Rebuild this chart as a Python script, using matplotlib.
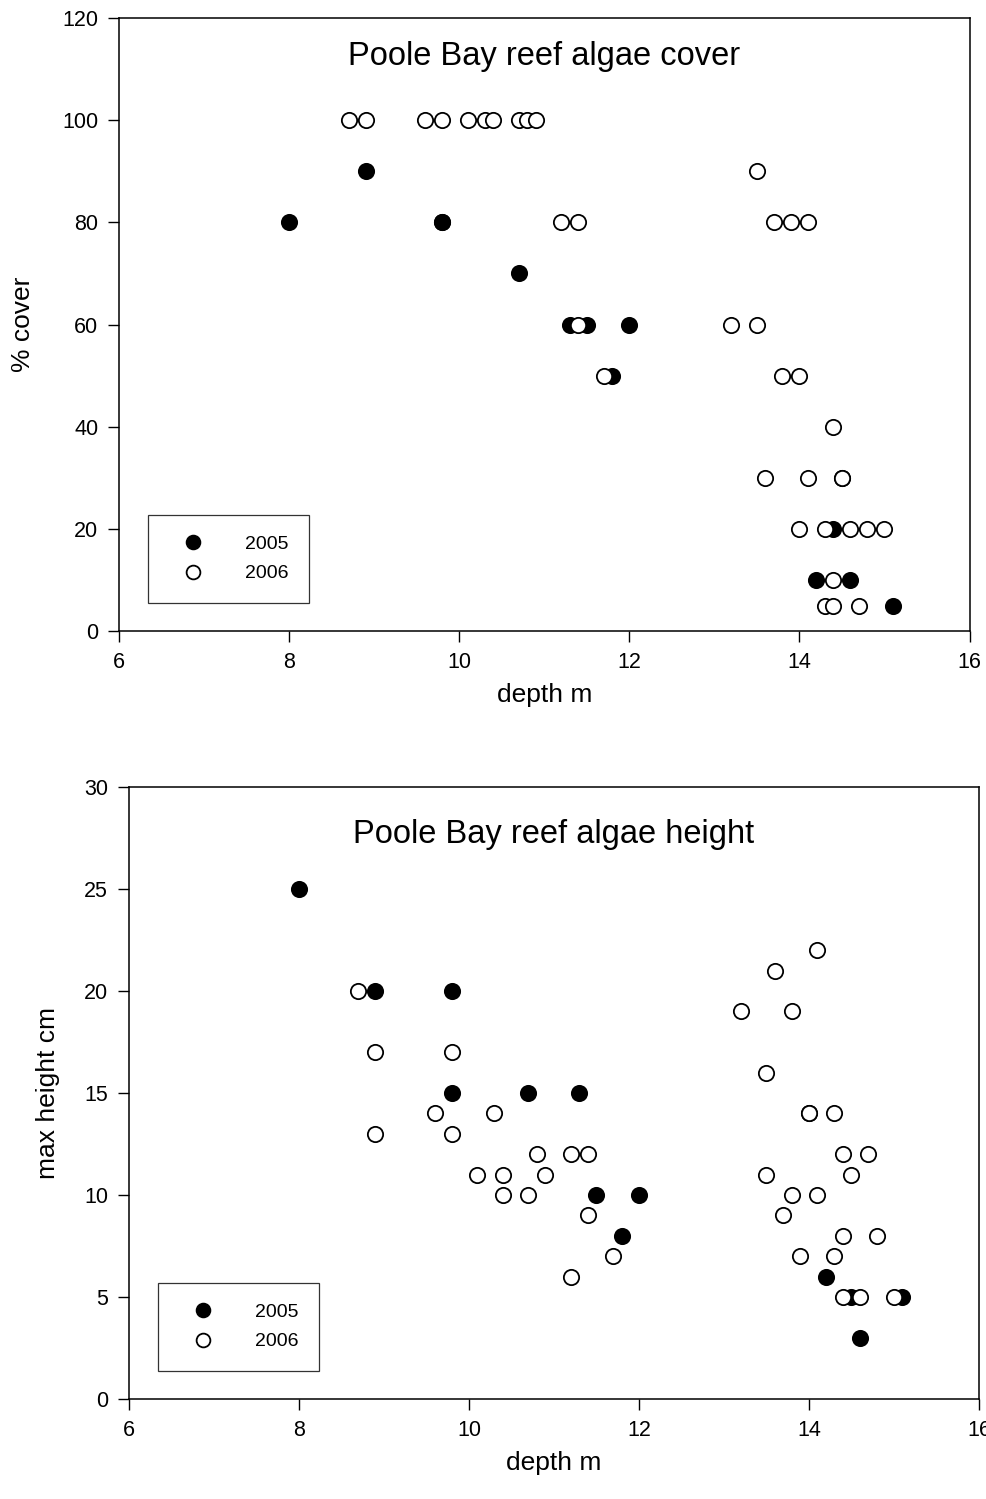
import matplotlib
matplotlib.use("Agg")
import matplotlib.pyplot as plt

plt.rcParams['font.family'] = ['Liberation Sans', 'DejaVu Sans']

# % cover vs depth
cover_depth_2005 = [8.0, 8.9, 9.8, 9.8, 10.7, 11.3, 11.5, 12.0, 11.8, 14.4, 14.2, 14.6, 15.1]
cover_2005 = [80, 90, 80, 80, 70, 60, 60, 60, 50, 20, 10, 10, 5]
cover_depth_2006 = [8.7, 8.9, 9.6, 9.8, 10.1, 10.3, 10.4, 10.7, 10.8, 10.9,
                    11.2, 11.4, 11.4, 11.7,
                    13.5, 13.7, 13.9, 14.1, 13.2, 13.5, 13.8, 14.0, 14.4,
                    13.6, 14.1, 14.5, 14.5,
                    14.0, 14.3, 14.6, 14.8, 15.0,
                    14.4, 14.3, 14.4, 14.7]
cover_2006 = [100, 100, 100, 100, 100, 100, 100, 100, 100, 100,
              80, 80, 60, 50,
              90, 80, 80, 80, 60, 60, 50, 50, 40,
              30, 30, 30, 30,
              20, 20, 20, 20, 20,
              10, 5, 5, 5]

# max height vs depth
height_depth_2005 = [8.0, 8.9, 9.8, 9.8, 10.7, 11.3, 11.5, 12.0, 11.8, 14.2, 14.5, 15.1, 14.6]
height_2005 = [25, 20, 20, 15, 15, 15, 10, 10, 8, 6, 5, 5, 3]
height_depth_2006 = [8.7, 8.9, 9.8, 9.6, 10.3, 8.9, 9.8, 10.8, 11.2, 11.4,
                     10.1, 10.4, 10.9, 10.4, 10.7, 11.4, 11.7, 11.2,
                     14.1, 13.6, 13.2, 13.8, 13.5, 14.0, 14.0, 14.3, 14.4, 14.7,
                     13.5, 14.5, 13.8, 14.1, 13.7, 14.4, 14.8, 13.9, 14.3,
                     14.4, 14.6, 15.0]
height_2006 = [20, 17, 17, 14, 14, 13, 13, 12, 12, 12,
               11, 11, 11, 10, 10, 9, 7, 6,
               22, 21, 19, 19, 16, 14, 14, 14, 12, 12,
               11, 11, 10, 10, 9, 8, 8, 7, 7,
               5, 5, 5]

fig = plt.figure(figsize=(9.86, 14.99), dpi=100)
ax1 = fig.add_axes([0.1207, 0.579, 0.8626, 0.409])
ax2 = fig.add_axes([0.1308, 0.0667, 0.8621, 0.4083])

ms = 11
mew = 1.3


def style(ax, title, ylabel, ymax, ystep, title_y, ylab_x):
    ax.set_xlim(6, 16)
    ax.set_ylim(0, ymax)
    ax.set_xticks(range(6, 17, 2))
    ax.set_yticks(range(0, ymax + 1, ystep))
    ax.tick_params(direction='out', length=8, width=1, labelsize=15.5,
                   top=False, right=False, pad=7)
    for s in ax.spines.values():
        s.set_linewidth(1.1)
    ax.set_xlabel('depth m', fontsize=19)
    ax.xaxis.set_label_coords(0.5, -0.085)
    ax.set_ylabel(ylabel, fontsize=19)
    ax.yaxis.set_label_coords(ylab_x, 0.5)
    ax.text(0.5, title_y, title, transform=ax.transAxes, ha='center',
            va='center', fontsize=23.5)
    leg = ax.legend(loc='lower left', bbox_to_anchor=(0.034, 0.046),
                    borderaxespad=0, fontsize=14, frameon=True, fancybox=False,
                    edgecolor='black', handletextpad=1.4, borderpad=1.05,
                    labelspacing=0.6, handlelength=2.55, markerscale=0.9)
    leg.get_frame().set_linewidth(0.9)


ax1.plot(cover_depth_2005, cover_2005, 'o', ms=ms, mfc='black', mec='black',
         mew=mew, label='2005', clip_on=False)
ax1.plot(cover_depth_2006, cover_2006, 'o', ms=ms, mfc='white', mec='black',
         mew=mew, label='2006', clip_on=False)
style(ax1, 'Poole Bay reef algae cover', '% cover', 120, 20, 0.937, -0.099)

ax2.plot(height_depth_2005, height_2005, 'o', ms=ms, mfc='black', mec='black',
         mew=mew, label='2005', clip_on=False)
ax2.plot(height_depth_2006, height_2006, 'o', ms=ms, mfc='white', mec='black',
         mew=mew, label='2006', clip_on=False)
style(ax2, 'Poole Bay reef algae height', 'max height cm', 30, 5, 0.923, -0.081)

fig.savefig('out.png', dpi=100)
